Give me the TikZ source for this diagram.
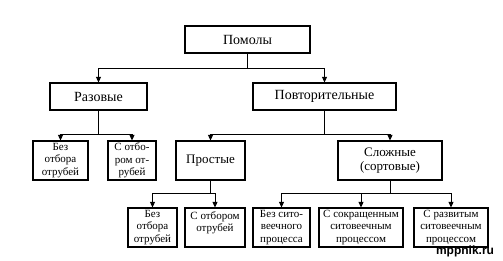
\documentclass[tikz,border=0pt]{standalone}
\usepackage{fontspec}
\setmainfont{Liberation Serif}
\newfontfamily\wmfont{Liberation Sans}
\usetikzlibrary{arrows.meta, positioning}

\tikzset{
  box/.style={draw, line width=1.2pt, align=center, inner sep=1pt},
  topbox/.style={box, font=\fontsize{14}{16}\selectfont},
  midbox/.style={box, font=\fontsize{13}{14}\selectfont},
  leafbox/.style={box, font=\fontsize{11}{12.3}\selectfont},
  link/.style={line width=1pt, -{Triangle[length=5.5pt,width=5pt]}}
}

\begin{document}
\begin{tikzpicture}[x=1pt, y=-1pt]
\useasboundingbox (0,0) rectangle (503,260);

% Verkhnie urovni
\node[topbox, minimum width=125pt, minimum height=27pt] (pomol) at (247.5,39.5) {Помолы};
\node[topbox, minimum width=97pt, minimum height=27pt] (razov) at (98.5,96.5) {Разовые};
\node[topbox, minimum width=143pt, minimum height=27pt] (povtor) at (324.5,96.5) {Повторительные};

% Vtoroi uroven
\node[leafbox, minimum width=55pt, minimum height=39pt] (razA) at (60.5,160.5) {Без\\отбора\\отрубей};
\node[leafbox, minimum width=48pt, minimum height=39pt] (razB) at (132,160.5) {С отбо-\\ром от-\\рубей};
\node[midbox, minimum width=69pt, minimum height=39pt] (prost) at (210.5,160.5) {Простые};
\node[midbox, minimum width=104pt, minimum height=39pt] (slozh) at (390,160.5) {Сложные\\(сортовые)};

% Nizhnii uroven
\node[leafbox, minimum width=49pt, minimum height=39pt] (proA) at (152.5,227.5) {Без\\отбора\\отрубей};
\node[leafbox, minimum width=60pt, minimum height=39pt] (proB) at (215,227.5) {С отбором\\отрубей\\\mbox{}};
\node[leafbox, minimum width=57pt, minimum height=39pt] (sloA) at (281.5,227.5) {Без сито-\\веечного\\процесса};
\node[leafbox, minimum width=84pt, minimum height=39pt] (sloB) at (361,227.5) {С сокращенным\\ситовеечным\\процессом};
\node[leafbox, minimum width=74pt, minimum height=39pt] (sloC) at (451,227.5) {С развитым\\ситовеечным\\процессом};

% Svyazi
\foreach \from/\to/\drop in {pomol/razov/15, pomol/povtor/15, razov/razA/24, razov/razB/24,
    povtor/prost/24, povtor/slozh/24, prost/proA/13, prost/proB/13,
    slozh/sloA/13, slozh/sloB/13, slozh/sloC/13}{
    \draw[link] (\from.south) -- ++(0,\drop) -| (\to);
}

\node[font=\wmfont\bfseries\fontsize{12}{13}\selectfont] (wmark) at (465,251) {mppnik.ru};
\end{tikzpicture}
\end{document}
